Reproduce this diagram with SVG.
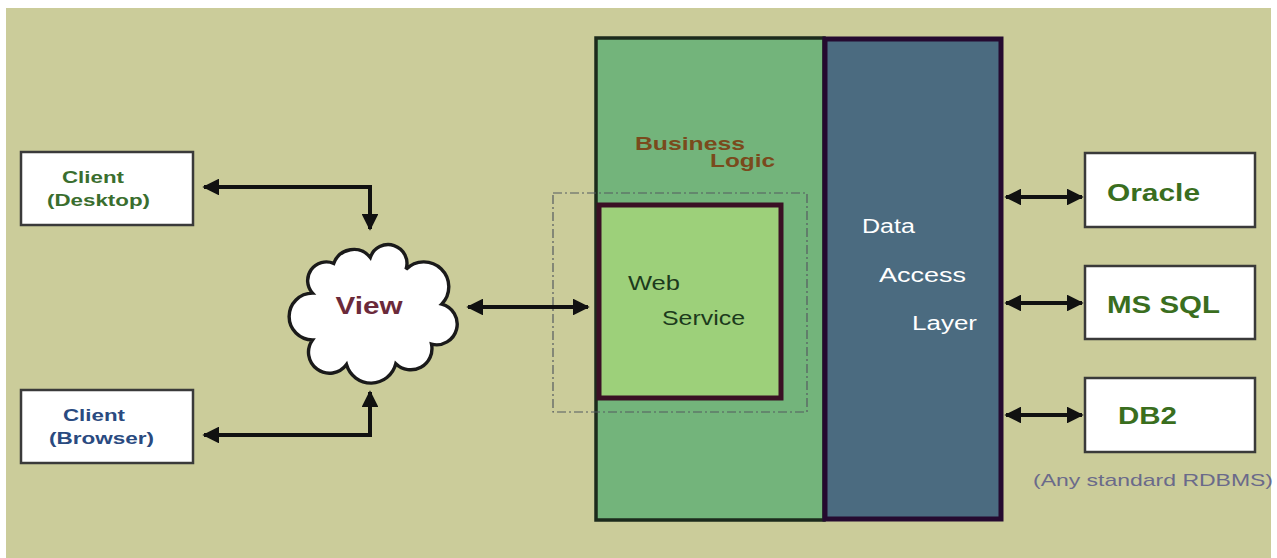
<svg xmlns="http://www.w3.org/2000/svg" width="1277" height="558" viewBox="0 0 1277 558">
<defs>
<style>
.box{fill:#ffffff;stroke:#3a3a3a;stroke-width:2.5}
.conn{fill:none;stroke:#111111;stroke-width:4}
.lbl{font-family:"Liberation Sans",Arial,sans-serif;font-weight:bold}
.reg{font-family:"Liberation Sans",Arial,sans-serif}
</style>
<marker id="ah" viewBox="0 0 10 10" refX="9" refY="5" markerWidth="4.2" markerHeight="4.2" orient="auto-start-reverse" markerUnits="strokeWidth">
<path d="M0,0 L10,5 L0,10 Z" fill="#111111"/>
</marker>
</defs>
<rect x="0" y="0" width="1277" height="558" fill="#ffffff"/>
<rect x="6" y="8" width="1265" height="550" fill="#cbcc9a"/>

<g id="business-logic">
<rect x="596" y="38" width="228" height="482" fill="#73b47b" stroke="#1c2a1c" stroke-width="3.5"/>
<text class="lbl" x="635" y="150" font-size="19" fill="#7a4a1c" textLength="110" lengthAdjust="spacingAndGlyphs">Business</text>
<text class="lbl" x="710" y="167" font-size="19" fill="#7a4a1c" textLength="65" lengthAdjust="spacingAndGlyphs">Logic</text>
</g>

<g id="data-access-layer">
<rect x="825" y="39" width="176" height="480" fill="#4b6b80" stroke="#250a30" stroke-width="5"/>
<text class="reg" x="862" y="233" font-size="20" fill="#ffffff" textLength="53" lengthAdjust="spacingAndGlyphs">Data</text>
<text class="reg" x="879" y="282" font-size="20" fill="#ffffff" textLength="87" lengthAdjust="spacingAndGlyphs">Access</text>
<text class="reg" x="912" y="330" font-size="20" fill="#ffffff" textLength="65" lengthAdjust="spacingAndGlyphs">Layer</text>
</g>

<g id="web-service">
<rect x="553" y="193" width="254" height="219" fill="none" stroke="#555a60" stroke-width="1.2" stroke-dasharray="9,3,2,3"/>
<rect x="599" y="205" width="182" height="193" fill="#9dd07a" stroke="#3a1024" stroke-width="5"/>
<text class="reg" x="628" y="290" font-size="21" fill="#1c3a1c" textLength="52" lengthAdjust="spacingAndGlyphs">Web</text>
<text class="reg" x="662" y="325" font-size="21" fill="#1c3a1c" textLength="83" lengthAdjust="spacingAndGlyphs">Service</text>
</g>

<g id="client-desktop">
<rect class="box" x="21" y="152" width="172" height="73"/>
<text class="lbl" x="62" y="183" font-size="17" fill="#3a6e2e" textLength="62" lengthAdjust="spacingAndGlyphs">Client</text>
<text class="lbl" x="47" y="206" font-size="17" fill="#3a6e2e" textLength="103" lengthAdjust="spacingAndGlyphs">(Desktop)</text>
</g>

<g id="client-browser">
<rect class="box" x="21" y="390" width="172" height="73"/>
<text class="lbl" x="63" y="421" font-size="17" fill="#2a4a80" textLength="62" lengthAdjust="spacingAndGlyphs">Client</text>
<text class="lbl" x="49" y="444" font-size="17" fill="#2a4a80" textLength="105" lengthAdjust="spacingAndGlyphs">(Browser)</text>
</g>

<g id="view">
<path transform="translate(372 311) scale(0.85) translate(-370 -311)" d="M 300 290 A 22 22 0 0 1 325 255 A 25 25 0 0 1 368 248 A 22 22 0 0 1 410 262 A 25 25 0 0 1 452 303 A 24 24 0 0 1 440 350 A 25 25 0 0 1 398 373 A 30 30 0 0 1 340 374 A 24 24 0 0 1 300 345 A 25 25 0 0 1 300 290 Z" fill="#ffffff" stroke="#1a1a1a" stroke-width="4"/>
<text class="lbl" x="369" y="314" font-size="24" fill="#6b2a3a" text-anchor="middle" textLength="67" lengthAdjust="spacingAndGlyphs">View</text>
</g>

<g id="oracle">
<rect class="box" x="1085" y="153" width="170" height="74"/>
<text class="lbl" x="1107" y="201" font-size="23" fill="#3a6e1e" textLength="93" lengthAdjust="spacingAndGlyphs">Oracle</text>
</g>
<g id="ms-sql">
<rect class="box" x="1085" y="266" width="170" height="73"/>
<text class="lbl" x="1107" y="313" font-size="23" fill="#3a6e1e" textLength="113" lengthAdjust="spacingAndGlyphs">MS SQL</text>
</g>
<g id="db2">
<rect class="box" x="1085" y="378" width="170" height="74"/>
<text class="lbl" x="1118" y="424" font-size="23" fill="#3a6e1e" textLength="59" lengthAdjust="spacingAndGlyphs">DB2</text>
</g>
<text class="reg" x="1033" y="486" font-size="17" fill="#6a6a8a" textLength="240" lengthAdjust="spacingAndGlyphs">(Any standard RDBMS)</text>

<g id="connectors">
<path class="conn" d="M 204 187 L 370 187 L 370 229" marker-start="url(#ah)" marker-end="url(#ah)"/>
<path class="conn" d="M 204 435 L 370 435 L 370 392" marker-start="url(#ah)" marker-end="url(#ah)"/>
<path class="conn" d="M 468 307 L 588 307" marker-start="url(#ah)" marker-end="url(#ah)"/>
<path class="conn" d="M 1006 197 L 1082 197" marker-start="url(#ah)" marker-end="url(#ah)"/>
<path class="conn" d="M 1006 303 L 1082 303" marker-start="url(#ah)" marker-end="url(#ah)"/>
<path class="conn" d="M 1006 415 L 1082 415" marker-start="url(#ah)" marker-end="url(#ah)"/>
</g>
</svg>
